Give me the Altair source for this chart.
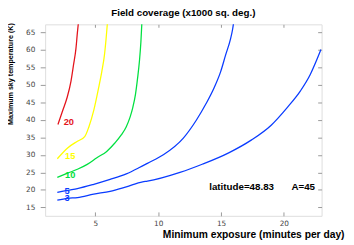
import altair as alt
import pandas as pd

# ---- data ----
curve_names = ["20", "15", "10", "5", "3"]

red_x = [2.02, 2.40, 2.75, 3.06, 3.26, 3.45, 3.57, 3.65]
red_y = [38.7, 42.7, 46.4, 51.1, 55.7, 60.3, 65.0, 67.8]

yel_x = [1.97, 2.79, 3.57, 4.15, 4.48, 4.87, 5.26, 5.51, 5.72, 5.85, 5.96]
yel_y = [28.9, 32.0, 33.9, 35.2, 38.0, 42.7, 49.2, 53.8, 58.5, 63.1, 67.8]

grn_x = [1.97, 2.79, 3.57, 4.35, 5.12, 5.90, 6.55, 7.06, 7.45, 7.76, 7.98, 8.19, 8.36, 8.50, 8.62, 8.70]
grn_y = [23.6, 24.8, 25.9, 27.3, 29.2, 31.0, 33.4, 35.7, 38.0, 40.8, 43.6, 47.3, 52.0, 56.6, 62.2, 67.8]

b5_x = [1.97, 2.79, 3.57, 4.87, 6.17, 7.46, 8.50, 9.14, 10.44, 12.0, 13.03, 13.80, 14.45, 14.97, 15.36, 15.75, 15.92, 16.0]
b5_y = [19.3, 19.9, 20.4, 21.6, 23.0, 24.6, 26.4, 27.6, 30.1, 34.8, 39.9, 44.6, 49.2, 53.8, 58.5, 63.1, 65.9, 67.8]

b3_x = [1.97, 2.79, 3.57, 4.87, 6.17, 7.46, 8.76, 9.14, 11.73, 13.55, 15.61, 17.43, 18.99, 20.28, 21.32, 22.09, 22.61, 22.95]
b3_y = [17.1, 17.6, 17.8, 18.8, 19.6, 20.9, 22.3, 22.5, 25.0, 27.4, 30.6, 34.3, 38.5, 43.6, 48.3, 52.9, 57.1, 60.1]

label_text = ["20", "15", "10", "5", "3"]
label_x = [2.48, 2.59, 2.59, 2.54, 2.54]
label_y = [39.4, 29.7, 24.3, 19.8, 17.8]

ann_text = ["latitude=48.83", "A=45"]
ann_x = [14.06, 20.6]
ann_y = [20.9, 20.9]

x_ticks = [5, 10, 15, 20]
y_ticks = [15, 20, 25, 30, 35, 40, 45, 50, 55, 60, 65]

colors = ["#e4141c", "#ffff00", "#00e040", "#0a3cff", "#0a3cff"]

# ---- tables ----
rows = []
for name, xs, ys in zip(curve_names, [red_x, yel_x, grn_x, b5_x, b3_x],
                        [red_y, yel_y, grn_y, b5_y, b3_y]):
    for i, (xv, yv) in enumerate(zip(xs, ys)):
        rows.append({"curve": name, "i": i, "x": xv, "y": yv})
df = pd.DataFrame(rows)
labels_df = pd.DataFrame({"curve": label_text, "x": label_x, "y": label_y})
ann_df = pd.DataFrame({"text": ann_text, "x": ann_x, "y": ann_y})

BOLD = "Liberation Sans"
TICKF = "DejaVu Sans"

x_scale = alt.Scale(domain=[1, 23], nice=False, zero=False)
y_scale = alt.Scale(domain=[12.6, 67.3], nice=False, zero=False)
color_scale = alt.Scale(domain=curve_names, range=colors)

lines = alt.Chart(df).mark_line(clip=True, strokeWidth=1.3, interpolate="monotone").encode(
    x=alt.X("x:Q", scale=x_scale, axis=alt.Axis(
        orient="bottom", values=x_ticks, ticks=False, tickSize=0, domain=False, grid=False,
        labelFont=TICKF, labelFontSize=7.5, labelColor="#444", labelPadding=3.5,
        title="Minimum exposure (minutes per day)", titleFont=BOLD, titleFontSize=10.5,
        titleFontWeight="bold", titleColor="#000", titleX=306, titleY=21.8,
        titleAlign="right", titleBaseline="alphabetic")),
    y=alt.Y("y:Q", scale=y_scale, axis=alt.Axis(
        orient="left", values=y_ticks, ticks=True, tickSize=5, tickColor="#999", tickWidth=1,
        domain=False, grid=False,
        labelFont=TICKF, labelFontSize=7.5, labelColor="#444", labelPadding=5.5,
        title="Maximum sky temperature (K)", titleFont=BOLD, titleFontSize=7.3,
        titleFontWeight="bold", titleColor="#000", titleX=-35.7, titleY=-1.7,
        titleAngle=270, titleAlign="right", titleBaseline="middle")),
    color=alt.Color("curve:N", scale=color_scale, legend=None),
    order=alt.Order("i:Q"),
)

ticks_in = alt.Chart(df).mark_point(opacity=0).encode(
    x=alt.X("x:Q", scale=x_scale, axis=alt.Axis(
        orient="bottom", offset=-4, values=x_ticks, tickSize=4, tickColor="#999",
        labels=False, domain=False, grid=False, title=None)),
    y=alt.Y("y:Q", scale=y_scale, axis=alt.Axis(
        orient="right", offset=-4, values=y_ticks, tickSize=4, tickColor="#999",
        labels=False, domain=False, grid=False, title=None)),
)

ticks_top = alt.Chart(df).mark_point(opacity=0).encode(
    x=alt.X("x:Q", scale=x_scale, axis=alt.Axis(
        orient="top", offset=-3, values=x_ticks, tickSize=3, tickColor="#999",
        labels=False, domain=False, grid=False, title=None)),
    y=alt.Y("y:Q", scale=y_scale, axis=None),
)

curve_labels = alt.Chart(labels_df).mark_text(
    align="left", baseline="middle", font=BOLD, fontWeight="bold", fontSize=9.5
).encode(
    x=alt.X("x:Q", scale=x_scale, axis=None),
    y=alt.Y("y:Q", scale=y_scale, axis=None),
    text="curve:N",
    color=alt.Color("curve:N", scale=color_scale, legend=None),
)

annotation = alt.Chart(ann_df).mark_text(
    align="left", baseline="middle", font=BOLD, fontWeight="bold", fontSize=10, color="#000"
).encode(
    x=alt.X("x:Q", scale=x_scale, axis=None),
    y=alt.Y("y:Q", scale=y_scale, axis=None),
    text="text:N",
)

chart = alt.layer(lines, ticks_in, ticks_top, curve_labels, annotation).resolve_axis(
    x="independent", y="independent"
).properties(
    width=283,
    height=196,
    title=alt.Title(text="Field coverage (x1000 sq. deg.)", font=BOLD, fontSize=10,
                    fontWeight="bold", color="#000", anchor="middle", baseline="alphabetic",
                    offset=2, dy=8),
    autosize=alt.AutoSizeParams(type="none"),
    padding={"left": 38, "top": 14, "right": 25, "bottom": 22},
).configure_view(
    stroke="#999", strokeWidth=1.3
).configure(background="white")

chart.save("out.html", embed_options={"renderer": "svg", "actions": False})
